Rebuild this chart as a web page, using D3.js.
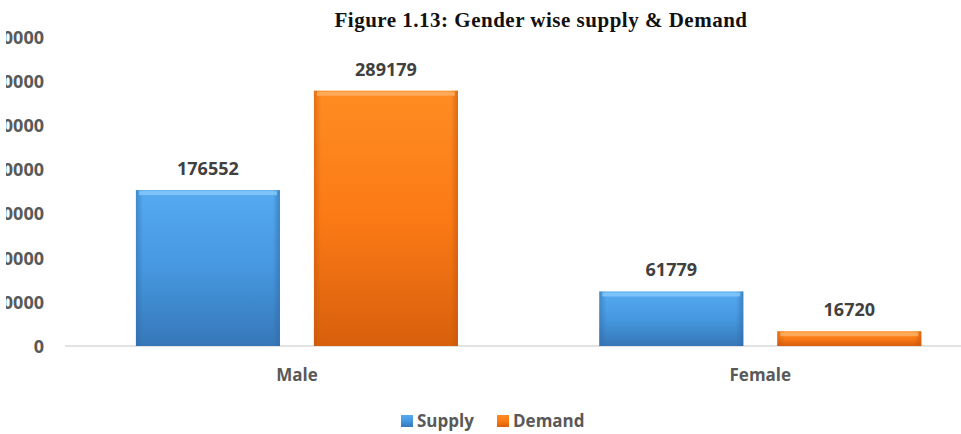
<!DOCTYPE html>
<html>
<head>
<meta charset="utf-8">
<script src="https://cdn.jsdelivr.net/npm/d3@7"></script>
<style>
  body { margin: 0; background: #fff; }
  .tick text { font-family: "Open Sans", sans-serif; font-weight: bold; }
</style>
</head>
<body>
<div class="boundary"></div>
<script>
// data
var categories = ["Male", "Female"];
var seriesNames = ["Supply", "Demand"];
var supply = [176552, 61779];
var demand = [289179, 16720];
var yTicks = [0, 50000, 100000, 150000, 200000, 250000, 300000, 350000];

var width = 961, height = 434;
var svg = d3.select(".boundary").append("svg")
  .attr("width", width).attr("height", height)
  .style("display", "block");

var defs = svg.append("defs");
var palette = {
  Supply: { top: "#55aaf0", mid: "#4698e0", bot: "#3677b8", edge: "#2f6aa6", hi: "#8fd0ff" },
  Demand: { top: "#ff8c22", mid: "#fb7a16", bot: "#d85f0c", edge: "#c0560c", hi: "#ffb870" }
};
seriesNames.forEach(function(s) {
  var p = palette[s];
  var g = defs.append("linearGradient").attr("id", "grad-" + s)
    .attr("x1", 0).attr("y1", 0).attr("x2", 0).attr("y2", 1);
  g.append("stop").attr("offset", "0%").attr("stop-color", p.top);
  g.append("stop").attr("offset", "50%").attr("stop-color", p.mid);
  g.append("stop").attr("offset", "100%").attr("stop-color", p.bot);
  var h = defs.append("linearGradient").attr("id", "side-" + s)
    .attr("x1", 0).attr("y1", 0).attr("x2", 1).attr("y2", 0);
  h.append("stop").attr("offset", "0%").attr("stop-color", p.edge).attr("stop-opacity", 0.5);
  h.append("stop").attr("offset", "5%").attr("stop-color", p.edge).attr("stop-opacity", 0);
  h.append("stop").attr("offset", "95%").attr("stop-color", p.edge).attr("stop-opacity", 0);
  h.append("stop").attr("offset", "100%").attr("stop-color", p.edge).attr("stop-opacity", 0.6);
});
// the source image is cropped on the left, cutting the tick labels
defs.append("clipPath").attr("id", "crop")
  .append("rect").attr("x", 6).attr("y", 0).attr("width", width).attr("height", height);

var x0 = d3.scaleBand().domain(categories).range([65.25, 992]).padding(0);
var x1 = d3.scaleBand().domain(seriesNames).range([0, x0.bandwidth()])
  .paddingInner(0.191).paddingOuter(0.397);
var y = d3.scaleLinear().domain([0, 350000]).range([346, 37]);

var rows = categories.map(function(c, i) {
  return { cat: c, values: [{ s: "Supply", v: supply[i] }, { s: "Demand", v: demand[i] }] };
});

// y axis labels only
var yAxis = svg.append("g").attr("clip-path", "url(#crop)")
  .append("g").attr("transform", "translate(44,0)")
  .call(d3.axisLeft(y).tickValues(yTicks).tickSize(0).tickPadding(0).tickFormat(d3.format("d")));
yAxis.select(".domain").remove();
yAxis.selectAll("text").attr("fill", "#595959").style("font-size", "18px").attr("dy", "0.35em");

// baseline
svg.append("line").attr("x1", 65).attr("x2", width).attr("y1", y(0)).attr("y2", y(0))
  .attr("stroke", "#d9d9d9").attr("stroke-width", 1.5);

var groups = svg.selectAll(".grp").data(rows).enter().append("g")
  .attr("transform", function(d) { return "translate(" + x0(d.cat) + ",0)"; });

var bars = groups.selectAll(".bar").data(function(d) { return d.values; }).enter().append("g");
bars.append("rect")
  .attr("x", function(d) { return x1(d.s); })
  .attr("y", function(d) { return y(d.v); })
  .attr("width", x1.bandwidth())
  .attr("height", function(d) { return y(0) - y(d.v); })
  .attr("fill", function(d) { return "url(#grad-" + d.s + ")"; });
bars.append("rect")
  .attr("x", function(d) { return x1(d.s); })
  .attr("y", function(d) { return y(d.v); })
  .attr("width", x1.bandwidth())
  .attr("height", function(d) { return y(0) - y(d.v); })
  .attr("fill", function(d) { return "url(#side-" + d.s + ")"; });
// bevel highlight on top
bars.append("rect")
  .attr("x", function(d) { return x1(d.s) + 3; })
  .attr("y", function(d) { return y(d.v) + 1; })
  .attr("width", x1.bandwidth() - 6)
  .attr("height", 4)
  .attr("fill", function(d) { return palette[d.s].hi; })
  .attr("opacity", 0.7);

bars.append("text")
  .attr("x", function(d) { return x1(d.s) + x1.bandwidth() / 2; })
  .attr("y", function(d) { return y(d.v) - 15; })
  .attr("text-anchor", "middle")
  .attr("fill", "#404040")
  .style("font-family", "'Open Sans', sans-serif")
  .style("font-weight", "bold")
  .style("font-size", "18px")
  .text(function(d) { return d.v; });

// category labels
groups.append("text")
  .attr("x", x0.bandwidth() / 2)
  .attr("y", 381)
  .attr("text-anchor", "middle")
  .attr("fill", "#595959")
  .style("font-family", "'Open Sans', sans-serif")
  .style("font-weight", "bold")
  .style("font-size", "17px")
  .text(function(d) { return d.cat; });

// title
svg.append("text").attr("x", 541).attr("y", 27).attr("text-anchor", "middle")
  .attr("fill", "#111")
  .style("font-family", "'Liberation Serif', serif")
  .style("font-weight", "bold")
  .style("font-size", "21px")
  .style("letter-spacing", "0.5px")
  .text("Figure 1.13: Gender wise supply & Demand");

// legend
var legendX = [401, 497];
var legend = svg.selectAll(".legend").data(seriesNames).enter().append("g")
  .attr("transform", function(d, i) { return "translate(" + legendX[i] + ",415)"; });
legend.append("rect").attr("width", 12).attr("height", 12)
  .attr("fill", function(d) { return "url(#grad-" + d + ")"; });
legend.append("text").attr("x", 16).attr("y", 12)
  .attr("fill", "#595959")
  .style("font-family", "'Open Sans', sans-serif")
  .style("font-weight", "bold")
  .style("font-size", "17px")
  .text(function(d) { return d; });
</script>
</body>
</html>
